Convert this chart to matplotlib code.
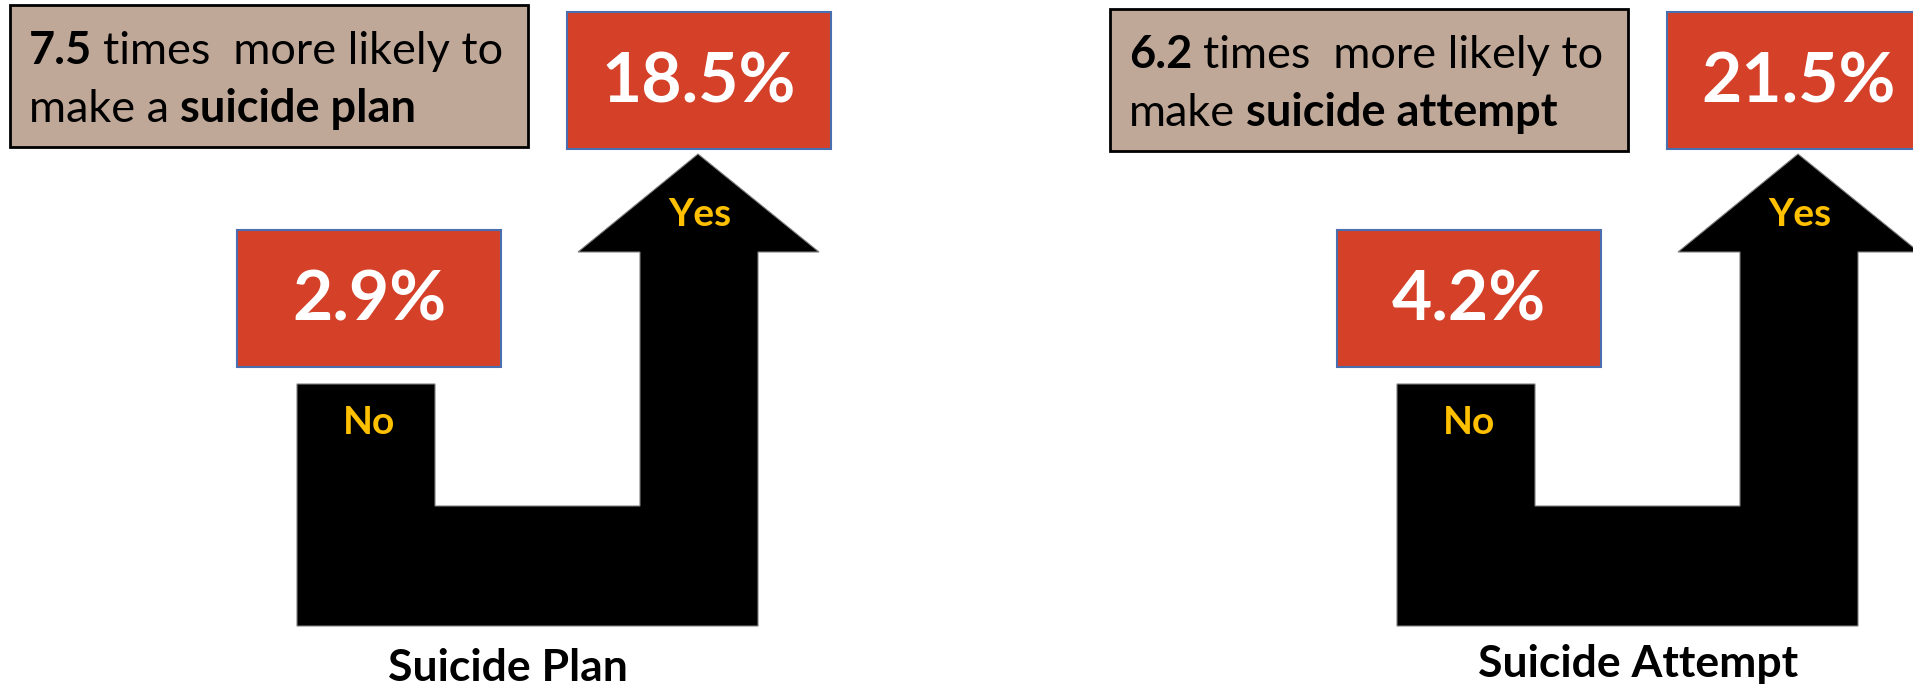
import matplotlib
matplotlib.use("Agg")
import matplotlib.pyplot as plt
from matplotlib.patches import Rectangle, Polygon

# survey outcomes: share answering "yes"/"no" to the exposure question
panel_titles = ["Suicide Plan", "Suicide Attempt"]
pct_no = [2.9, 4.2]
pct_yes = [18.5, 21.5]
times_more = [7.5, 6.2]
lead_words = ["make a", "make"]
bold_words = ["suicide plan", "suicide attempt"]

FONT = ["Lato", "DejaVu Sans"]
RED = "#D54029"
BLUE_EDGE = "#4A6FB0"
TAN = "#C0A899"
GOLD = "#FFC000"

W, H = 1913, 688
fig = plt.figure(figsize=(W / 100, H / 100), dpi=100)
ax = fig.add_axes([0, 0, 1, 1])
ax.set_xlim(0, W)
ax.set_ylim(H, 0)
ax.axis("off")
renderer = fig.canvas.get_renderer()


def text_runs(x, y, runs, size):
    # lay out mixed bold/regular pieces on one baseline
    gap = size * 100 / 72 * 0.24
    for s, weight in runs:
        t = ax.text(x, y, s, fontsize=size, fontweight=weight, family=FONT,
                    va="baseline", ha="left", color="black")
        bb = t.get_window_extent(renderer=renderer)
        x = ax.transData.inverted().transform((bb.x1, bb.y0))[0] + gap


def draw_panel(i, dx, dy, title_x, title_y):
    # tan caption box
    ax.add_patch(Rectangle((10 + dx, 5 + dy), 518, 142, facecolor=TAN,
                           edgecolor="black", linewidth=2))
    text_runs(29 + dx, 64 + dy, [(f"{times_more[i]}", "bold"),
                                 ("times  more likely to", "normal")], 32.5)
    text_runs(29 + dx, 122 + dy, [(lead_words[i], "normal"),
                                  (bold_words[i], "bold")], 32.5)

    # bent arrow: "No" column at left, rising "Yes" arrow at right
    pts = [(297, 384), (435, 384), (435, 506), (640, 506), (640, 252),
           (578, 252), (698, 154), (819, 252), (758, 252), (758, 626),
           (297, 626)]
    ax.add_patch(Polygon([(x + dx, y) for x, y in pts], closed=True,
                         facecolor="black", edgecolor="#7f7f7f", linewidth=0.8))
    ax.text(369 + dx, 422, "No", fontsize=28, fontweight="bold", family=FONT,
            color=GOLD, ha="center", va="center")
    ax.text(700 + dx, 214, "Yes", fontsize=28, fontweight="bold", family=FONT,
            color=GOLD, ha="center", va="center")

    # percentage boxes
    ax.add_patch(Rectangle((567 + dx, 12), 264, 137, facecolor=RED,
                           edgecolor=BLUE_EDGE, linewidth=1.5))
    ax.text(699 + dx, 83, f"{pct_yes[i]}%", fontsize=50, fontweight="bold",
            family=FONT, color="white", ha="center", va="center")
    ax.add_patch(Rectangle((237 + dx, 230), 264, 137, facecolor=RED,
                           edgecolor=BLUE_EDGE, linewidth=1.5))
    ax.text(369 + dx, 301, f"{pct_no[i]}%", fontsize=50, fontweight="bold",
            family=FONT, color="white", ha="center", va="center")

    ax.text(title_x + dx, title_y, panel_titles[i], fontsize=32,
            fontweight="bold", family=FONT, color="black",
            ha="center", va="center")


draw_panel(0, 0, 0, 508, 668)
draw_panel(1, 1100, 4, 538, 664)

fig.savefig("out.png", dpi=100, facecolor="white")
